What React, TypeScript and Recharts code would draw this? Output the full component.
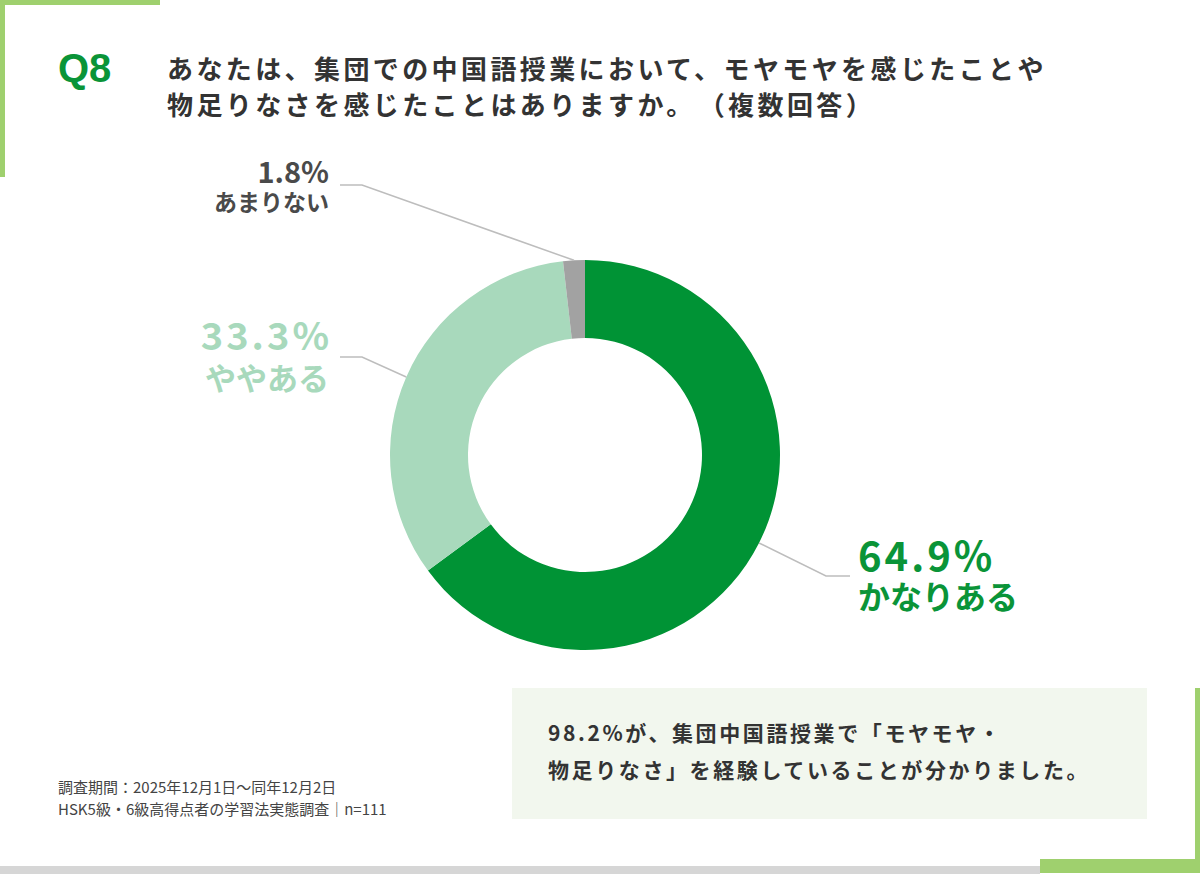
import { PieChart, Pie, Cell } from 'recharts'

const categories = ['かなりある', 'ややある', 'あまりない']
const shares = [64.9, 33.3, 1.8]
const sliceColors = ['#009335', '#A8D9BC', '#A2A2A2']
const labelColors = ['#0A9438', '#A8D9BC', '#4A4A4A']

const data = categories.map((name, i) => ({ name, value: shares[i] }))

// leader line elbow / end + text placement per slice
const labelLayout = [
  { elbow: [826, 576], end: [850, 576], anchor: 'start', tx: 858, y1: 571, y2: 609, s1: 40, s2: 32, ls: 3 },
  { elbow: [362, 357], end: [340, 357], anchor: 'end', tx: 329, y1: 350, y2: 390, s1: 38, s2: 31, ls: 3 },
  { elbow: [362, 185], end: [340, 185], anchor: 'end', tx: 329, y1: 183, y2: 211, s1: 29, s2: 23, ls: 0 },
]

const RADIAN = Math.PI / 180
const jpFont = '"Noto Sans CJK JP", "Noto Sans", sans-serif'

function renderLabel(props: any) {
  const { cx, cy, midAngle, outerRadius, index, value, name } = props
  const l = labelLayout[index]
  const x0 = cx + outerRadius * Math.cos(-midAngle * RADIAN)
  const y0 = cy + outerRadius * Math.sin(-midAngle * RADIAN)
  // letter spacing adds trailing space; shift end-anchored text to compensate
  const tx = l.anchor === 'end' ? l.tx + l.ls : l.tx
  return (
    <g key={`lbl-${index}`}>
      <polyline
        points={`${x0},${y0} ${l.elbow[0]},${l.elbow[1]} ${l.end[0]},${l.end[1]}`}
        fill="none"
        stroke="#BDBDBD"
        strokeWidth={1.5}
      />
      <text
        x={tx}
        y={l.y1}
        textAnchor={l.anchor}
        fill={labelColors[index]}
        fontSize={l.s1}
        fontWeight={700}
        fontFamily={jpFont}
        letterSpacing={l.ls}
      >
        {`${value}%`}
      </text>
      <text
        x={l.tx}
        y={l.y2}
        textAnchor={l.anchor}
        fill={labelColors[index]}
        fontSize={l.s2}
        fontWeight={700}
        fontFamily={jpFont}
      >
        {name}
      </text>
    </g>
  )
}

export default function App() {
  return (
    <div
      style={{
        position: 'absolute',
        top: 0,
        left: 0,
        width: 1200,
        height: 884,
        background: '#fff',
        overflow: 'hidden',
        fontFamily: jpFont,
      }}
    >
      {/* frame accents */}
      <div style={{ position: 'absolute', left: 0, top: 0, width: 160, height: 5, background: '#9FD06E' }} />
      <div style={{ position: 'absolute', left: 0, top: 0, width: 5, height: 177, background: '#9FD06E' }} />
      <div style={{ position: 'absolute', left: 0, top: 866, width: 1040, height: 8, background: '#D6D6D6' }} />
      <div style={{ position: 'absolute', left: 1040, top: 859, width: 160, height: 14, background: '#9FD06E' }} />
      <div style={{ position: 'absolute', left: 1195, top: 688, width: 5, height: 185, background: '#9FD06E' }} />

      <div
        style={{
          position: 'absolute',
          left: 58,
          top: 46,
          fontFamily: '"Liberation Sans", Arial, sans-serif',
          fontWeight: 700,
          fontSize: 40,
          color: '#0A9438',
          lineHeight: '44px',
        }}
      >
        Q8
      </div>
      <div
        style={{
          position: 'absolute',
          left: 167,
          top: 50,
          fontWeight: 700,
          fontSize: 26,
          letterSpacing: 3.4,
          lineHeight: '36px',
          color: '#333',
          whiteSpace: 'nowrap',
        }}
      >
        あなたは、集団での中国語授業において、モヤモヤを感じたことや
        <br />
        物足りなさを感じたことはありますか。<span style={{ marginLeft: 16 }}>（複数回答）</span>
      </div>

      <div style={{ position: 'absolute', left: 0, top: 0 }}>
        <PieChart width={1200} height={884} margin={{ top: 0, right: 0, bottom: 0, left: 0 }}>
          <Pie
            data={data}
            dataKey="value"
            nameKey="name"
            cx={585}
            cy={455}
            innerRadius={117}
            outerRadius={195}
            startAngle={90}
            endAngle={-270}
            stroke="none"
            label={renderLabel}
            labelLine={false}
            isAnimationActive={false}
          >
            {data.map((d, i) => (
              <Cell key={d.name} fill={sliceColors[i]} />
            ))}
          </Pie>
        </PieChart>
      </div>

      <div
        style={{
          position: 'absolute',
          left: 512,
          top: 688,
          width: 635,
          height: 131,
          background: '#F2F7EE',
        }}
      />
      <div
        style={{
          position: 'absolute',
          left: 548,
          top: 714,
          fontWeight: 700,
          fontSize: 21,
          letterSpacing: 2.6,
          lineHeight: '37px',
          color: '#333',
          whiteSpace: 'nowrap',
        }}
      >
        98.2%が、集団中国語授業で「モヤモヤ・
        <br />
        物足りなさ」を経験していることが分かりました。
      </div>

      <div
        style={{
          position: 'absolute',
          left: 58,
          top: 776,
          fontSize: 15,
          lineHeight: '22px',
          color: '#444',
          whiteSpace: 'nowrap',
        }}
      >
        調査期間：2025年12月1日〜同年12月2日
        <br />
        HSK5級・6級高得点者の学習法実態調査│n=111
      </div>
    </div>
  )
}
